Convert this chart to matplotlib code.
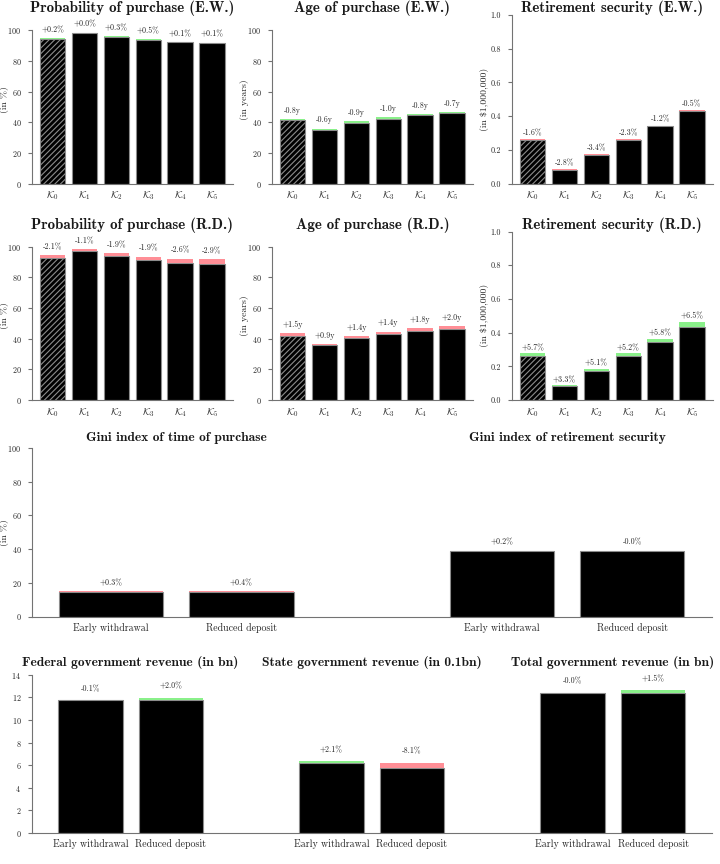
import matplotlib
matplotlib.use('Agg')
import matplotlib.pyplot as plt
from matplotlib import transforms
import numpy as np

plt.rcParams['font.family'] = ['cmr10', 'DejaVu Serif']
plt.rcParams['mathtext.fontset'] = 'cm'
plt.rcParams['axes.unicode_minus'] = False
plt.rcParams['axes.formatter.use_mathtext'] = True
plt.rcParams['hatch.linewidth'] = 0.8

# ---------------- data ----------------
scenarios = [r'$\mathcal{K}_0$', r'$\mathcal{K}_1$', r'$\mathcal{K}_2$',
             r'$\mathcal{K}_3$', r'$\mathcal{K}_4$', r'$\mathcal{K}_5$']
policies = ['Early withdrawal', 'Reduced deposit']

prob_base = [94.6, 98.3, 95.9, 93.6, 92.3, 91.8]
prob_ew = [0.2, 0.02, 0.3, 0.5, 0.1, 0.1]          # percentage points
prob_rd = [-2.1, -1.1, -1.9, -1.9, -2.6, -2.9]

age_base = [42.1, 35.8, 40.6, 43.3, 45.3, 46.4]
age_ew = [-0.8, -0.6, -0.9, -1.0, -0.8, -0.7]       # years
age_rd = [1.5, 0.9, 1.4, 1.4, 1.8, 2.0]

ret_base = [0.262, 0.084, 0.175, 0.264, 0.344, 0.435]
ret_ew = [-1.6, -2.8, -3.4, -2.3, -1.2, -0.5]       # relative %
ret_rd = [5.7, 3.3, 5.1, 5.2, 5.8, 6.5]

gini_time_base = 14.6
gini_time_chg = [0.3, 0.4]                          # percentage points
gini_ret_base = 38.9
gini_ret_chg = [0.2, -0.01]

fed_base = 11.74
fed_chg = [-0.1, 2.0]                               # relative %
state_base = 6.22
state_chg = [2.1, -8.1]
total_base = 12.42
total_chg = [-0.01, 1.5]

GREEN = '#8af08a'
PINK = '#ff8e96'
EDGE = '0.55'
SPINE = '0.45'
TXT = '0.15'

fig = plt.figure(figsize=(7.2, 8.64), dpi=100)
W, H = 720.0, 864.0


def add_ax(left_px, top_px, width_px, height_px):
    return fig.add_axes([left_px / W, 1 - (top_px + height_px) / H,
                         width_px / W, height_px / H])


def style(ax, ytop_tick, ylim_top, yticks):
    for s in ['top', 'right']:
        ax.spines[s].set_visible(False)
    for s in ['left', 'bottom']:
        ax.spines[s].set_color(SPINE)
        ax.spines[s].set_linewidth(0.8)
    ax.set_ylim(0, ylim_top)
    ax.set_yticks(yticks)
    ax.spines['left'].set_bounds(0, ytop_tick)
    ax.tick_params(axis='y', length=3, width=0.8, color=SPINE, pad=4.5,
                   labelsize=5.8, labelcolor=TXT)
    ax.tick_params(axis='x', length=0, pad=4.5, labelsize=7.1, labelcolor=TXT)


def draw(ax, xs, base, new, up_good, labels, off_pt, hatch_idx=None):
    for i, (x, b, n, lab) in enumerate(zip(xs, base, new, labels)):
        lo, hi = min(b, n), max(b, n)
        hatch = '//////' if i == hatch_idx else None
        ax.bar(x, lo, width=0.8, color='black', edgecolor=EDGE, linewidth=0.8,
               hatch=hatch)
        good = (n > b) == up_good
        col = GREEN if good else PINK
        if hi - lo > 0:
            ax.bar(x, hi - lo, bottom=lo, width=0.8, color=col, linewidth=0)
        ax.annotate(lab, (x, hi), xytext=(0, off_pt), textcoords='offset points',
                    ha='center', va='center', fontsize=5.7, color=TXT)


def title(ax, x, y_axes, text, size):
    tr = transforms.blended_transform_factory(ax.transData, ax.transAxes)
    ax.text(x, y_axes, text, transform=tr, ha='center', va='center',
            family=['cmb10', 'DejaVu Serif'], fontsize=size, color='0.1')


def ylabel(ax, x_axes, text):
    ax.text(x_axes, 0.5, text, transform=ax.transAxes, rotation=90,
            ha='center', va='center', fontsize=7, color=TXT)


xs6 = np.arange(len(scenarios))
row_tops = [15, 231.5, 448, 664.5]
RH = 168.5
col_lefts = [31.7, 271.7, 511.7]
CW = 201.3

panels = [
    ('Probability of purchase (E.W.)', prob_base, prob_ew, 'abs', True, '%', '(in %)', 100, 110, np.arange(0, 101, 20), 6.0),
    ('Age of purchase (E.W.)', age_base, age_ew, 'abs', False, 'y', '(in years)', 100, 110, np.arange(0, 101, 20), 6.2),
    ('Retirement security (E.W.)', ret_base, ret_ew, 'rel', True, '%', '(in $1,000,000)', 1.0, 1.0, np.linspace(0, 1, 6), 4.4),
    ('Probability of purchase (R.D.)', prob_base, prob_rd, 'abs', True, '%', '(in %)', 100, 110, np.arange(0, 101, 20), 6.0),
    ('Age of purchase (R.D.)', age_base, age_rd, 'abs', False, 'y', '(in years)', 100, 110, np.arange(0, 101, 20), 6.0),
    ('Retirement security (R.D.)', ret_base, ret_rd, 'rel', True, '%', '(in $1,000,000)', 1.0, 1.0, np.linspace(0, 1, 6), 4.0),
]

for k, (ttl, base, chg, kind, up_good, unit, ylab, ytop, ylim_top, yt, off) in enumerate(panels):
    r, c = divmod(k, 3)
    ax = add_ax(col_lefts[c], row_tops[r], CW, RH)
    base = np.array(base, float)
    chg = np.array(chg, float)
    new = base + chg if kind == 'abs' else base * (1 + chg / 100)
    labels = [f'{v:+.1f}{unit}' for v in chg]
    draw(ax, xs6, base, new, up_good, labels, off, hatch_idx=0)
    style(ax, ytop, ylim_top, yt)
    if ytop == 1.0:
        ax.set_yticklabels([f'{v:.1f}' for v in yt])
    ax.set_xlim(-0.66, 5.66)
    ax.set_xticks(xs6)
    ax.set_xticklabels(scenarios)
    ylabel(ax, -0.133, ylab)
    title(ax, 2.5, 1.04, ttl, 10.8)

# ---------------- Gini ----------------
ax = add_ax(31.7, row_tops[2], 680, RH)
gx = np.array([0, 1, 3, 4])
gbase = np.array([gini_time_base] * 2 + [gini_ret_base] * 2)
gchg = np.array(gini_time_chg + gini_ret_chg)
draw(ax, gx, gbase, gbase + gchg, False, [f'{v:+.1f}%' for v in gchg], 6.0)
style(ax, 100, 100, np.arange(0, 101, 20))
ax.set_xlim(-0.61, 4.61)
ax.set_xticks(gx)
ax.set_xticklabels(policies * 2)
ylabel(ax, -0.0393, '(in %)')
title(ax, 0.5, 1.061, 'Gini index of time of purchase', 9.7)
title(ax, 3.5, 1.061, 'Gini index of retirement security', 9.7)

# ---------------- Revenue ----------------
ax = add_ax(31.7, row_tops[3], 680, RH)
rx = np.array([0, 1, 3, 4, 6, 7])
rbase = np.array([fed_base] * 2 + [state_base] * 2 + [total_base] * 2)
rchg = np.array(fed_chg + state_chg + total_chg)
draw(ax, rx, rbase, rbase * (1 + rchg / 100), True, [f'{v:+.1f}%' for v in rchg], 8.1)
style(ax, 14, 14.9, np.arange(0, 15, 2))
ax.set_xlim(-0.73, 7.73)
ax.set_xticks(rx)
ax.set_xticklabels(policies * 3)
title(ax, 0.5, 1.012, 'Federal government revenue (in bn)', 9.7)
title(ax, 3.5, 1.012, 'State government revenue (in 0.1bn)', 9.7)
title(ax, 6.5, 1.012, 'Total government revenue (in bn)', 9.7)

fig.savefig('out.png', dpi=100)
